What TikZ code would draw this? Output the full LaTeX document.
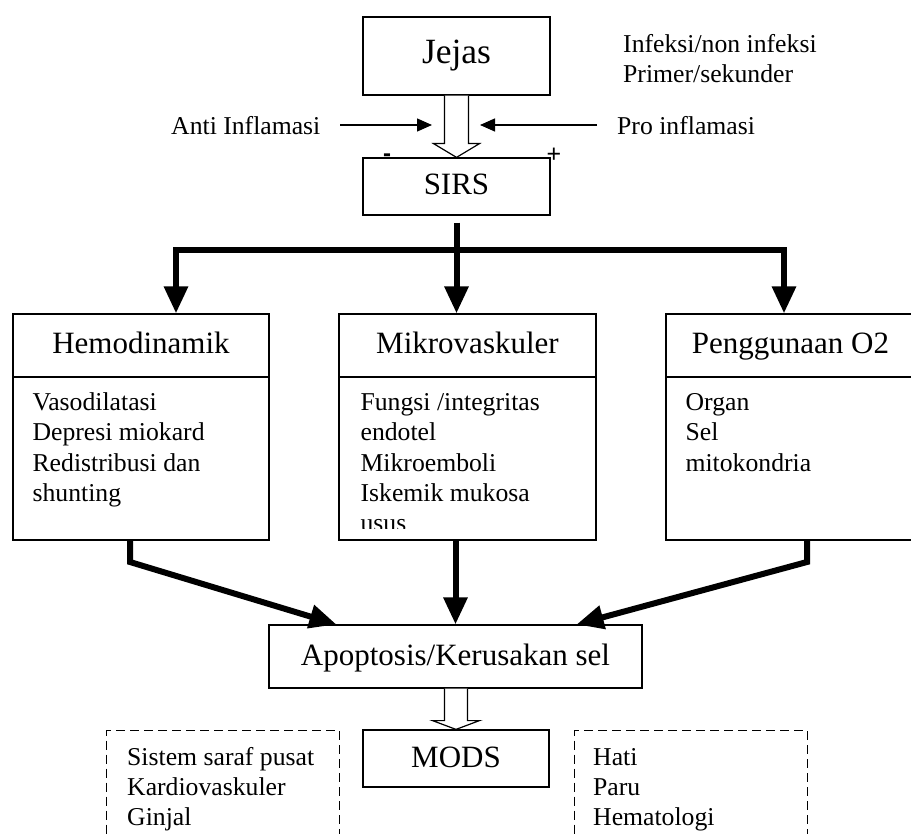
\documentclass[tikz,border=0pt]{standalone}
\usepackage{fontspec}
\setmainfont{Liberation Serif}
\newfontfamily\tandafont{Liberation Sans}
\usetikzlibrary{arrows.meta, positioning, calc}

\tikzset{
  kotak/.style={draw, line width=1.2pt, inner sep=0pt},
  putus/.style={draw, line width=1.2pt, dash pattern=on 9pt off 5pt, inner sep=0pt},
  besar/.style={font=\fontsize{31}{37}\selectfont, text height=23pt, text depth=6pt},
  isi/.style={font=\fontsize{25.7}{30.3}\selectfont, align=left, inner sep=0pt},
  panahtipis/.style={line width=1.3pt, -{Triangle[length=15pt,width=13pt]}},
  garistebal/.style={line width=6pt, line join=miter},
  ujung/.style={-{Triangle[length=27pt,width=23pt]}},
  panahkosong/.style={draw, line width=1.2pt, fill=white, line join=miter},
}

\begin{document}
\begin{tikzpicture}[x=1pt, y=-1pt]
\useasboundingbox (0,0) rectangle (911,834);

\node[kotak, minimum width=187, minimum height=78, font=\fontsize{35.5}{42}\selectfont] (jejas) at (456.5,56) {Jejas};
\node[isi, anchor=north west] (jenis) at (623,30.8) {\strut Infeksi/non infeksi\\Primer/sekunder};

\node[isi, anchor=base west] (anti) at (171,135) {Anti Inflamasi};
\node[isi, anchor=base west] (pro)  at (617,135) {Pro inflamasi};
\coordinate (antiawal) at (340,125);
\coordinate (antiujung) at (432,125);
\coordinate (proawal) at (597,125);
\coordinate (proujung) at (480,125);

\node[kotak, besar, minimum width=187, minimum height=57] (sirs) at (456.5,186.5) {SIRS};
\node[font=\tandafont\bfseries\fontsize{24}{28}\selectfont] (minus) at (387,158) {-};
\node[font=\tandafont\fontsize{25}{30}\selectfont] (plus)  at (554,155) {+};

\draw[panahtipis] (antiawal) -- (antiujung);
\draw[panahtipis] (proawal) -- (proujung);

% panah kosong Jejas -> SIRS
\draw[panahkosong] ($(jejas.south)+(-12,0)$) -- ($(jejas.south)+(-12,48)$) -- ($(jejas.south)+(-23,48)$)
  -- (sirs.north) -- ($(jejas.south)+(23,48)$) -- ($(jejas.south)+(12,48)$) -- ($(jejas.south)+(12,0)$);

% tiga kelompok
\node[kotak, besar, minimum width=256, minimum height=63] (hemo)    at (141,345.5)   {Hemodinamik};
\node[kotak, besar, minimum width=257, minimum height=63] (mikro)   at (467.5,345.5) {Mikrovaskuler};
\node[kotak, besar, minimum width=249, minimum height=63] (oksigen) at (790.5,345.5) {Penggunaan O2\hspace{12pt}};

\node[kotak, minimum width=256, minimum height=163] (hemoisi)    at (141,458.5)   {};
\node[kotak, minimum width=257, minimum height=163] (mikroisi)   at (467.5,458.5) {};
\node[kotak, minimum width=249, minimum height=163] (oksigenisi) at (790.5,458.5) {};

\node[isi, below right=12.8pt and 20pt of hemoisi.north west] (hemoteks)
  {\strut Vasodilatasi\\Depresi miokard\\Redistribusi dan\\shunting};
\begin{scope}
\clip (mikroisi.north west) rectangle (596,528);
\node[isi, below right=12.8pt and 22pt of mikroisi.north west] (mikroteks)
  {\strut Fungsi /integritas\\endotel\\Mikroemboli\\Iskemik mukosa\\usus};
\end{scope}
\node[isi, below right=12.8pt and 20pt of oksigenisi.north west] (oksigenteks)
  {\strut Organ\\Sel\\mitokondria};

% SIRS -> tiga kelompok
\coordinate (cabangkiri) at (176,250);
\coordinate (cabangkanan) at (784,250);
\draw[garistebal, ujung] ([yshift=-7pt]sirs.south) -- (sirs.south |- mikro.north);
\draw[garistebal, {Triangle[length=27pt,width=23pt]}-{Triangle[length=27pt,width=23pt]}]
  (cabangkiri |- hemo.north) -- (cabangkiri) -- (cabangkanan) -- (cabangkanan |- oksigen.north);

\node[kotak, besar, minimum width=373, minimum height=63] (apoptosis) at (455.5,656.5) {Apoptosis/Kerusakan sel};

% tiga kelompok -> apoptosis
\coordinate (tekukkiri) at (130,562);
\coordinate (tekukkanan) at (807,562);
\draw[garistebal, ujung] (tekukkiri |- hemoisi.south) -- (tekukkiri) -- ($(apoptosis.north west)+(68,0)$);
\draw[garistebal, ujung] (apoptosis.north |- mikroisi.south) -- (apoptosis.north);
\draw[garistebal, ujung] (tekukkanan |- oksigenisi.south) -- (tekukkanan) -- ($(apoptosis.north east)+(-66,0)$);

\node[kotak, besar, minimum width=186, minimum height=57] (mods) at (456,758.5) {MODS};

% panah kosong apoptosis -> MODS
\draw[panahkosong] ($(apoptosis.south)+(-11,0)$) -- ($(apoptosis.south)+(-11,32)$) -- ($(apoptosis.south)+(-23,32)$)
  -- (mods.north) -- ($(apoptosis.south)+(24,32)$) -- ($(apoptosis.south)+(12,32)$) -- ($(apoptosis.south)+(12,0)$);

\node[putus, minimum width=233, minimum height=140, anchor=north west] (organkiri)  at (106,730) {};
\node[putus, minimum width=233, minimum height=140, anchor=north west] (organkanan) at (574,730) {};
\node[isi, below right=13.8pt and 21pt of organkiri.north west] (kiriteks)
  {\strut Sistem saraf pusat\\Kardiovaskuler\\Ginjal};
\node[isi, below right=13.8pt and 19pt of organkanan.north west] (kananteks)
  {\strut Hati\\Paru\\Hematologi};

\end{tikzpicture}
\end{document}
